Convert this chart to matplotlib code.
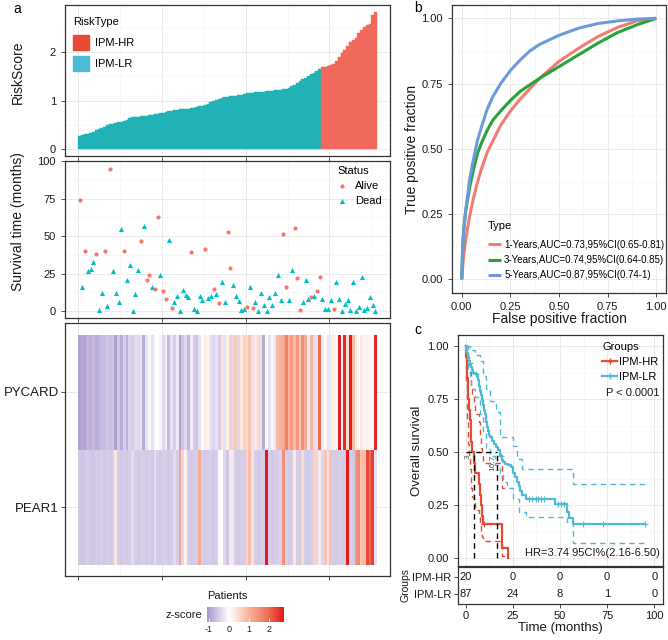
import numpy as np
import matplotlib
matplotlib.use("Agg")
import matplotlib.pyplot as plt
from matplotlib.colors import LinearSegmentedColormap, Normalize
from matplotlib.lines import Line2D
from matplotlib.patches import Patch
import matplotlib.cm as cm

plt.rcParams['font.family'] = ['Liberation Sans', 'DejaVu Sans']
plt.rcParams['axes.unicode_minus'] = False

W, H = 668, 640

# ---- panel a data ----
n_lr = 87
n_hr = 20
risk_score = [
    0.27, 0.29, 0.31, 0.32, 0.34, 0.36, 0.39, 0.41, 0.43, 0.46,
    0.49, 0.51, 0.52, 0.53, 0.55, 0.56, 0.58, 0.61, 0.64, 0.66,
    0.67, 0.67, 0.68, 0.68, 0.69, 0.70, 0.71, 0.72, 0.73, 0.74,
    0.75, 0.77, 0.78, 0.79, 0.80, 0.81, 0.82, 0.82, 0.83, 0.83,
    0.84, 0.85, 0.87, 0.89, 0.90, 0.92, 0.94, 0.97, 0.99, 1.02,
    1.03, 1.05, 1.07, 1.08, 1.09, 1.10, 1.10, 1.11, 1.12, 1.14,
    1.15, 1.15, 1.16, 1.17, 1.17, 1.18, 1.18, 1.19, 1.19, 1.20,
    1.21, 1.21, 1.22, 1.23, 1.24, 1.26, 1.30, 1.33, 1.37, 1.40,
    1.44, 1.47, 1.51, 1.54, 1.57, 1.61, 1.65,
    1.69, 1.70, 1.72, 1.74, 1.76, 1.82, 1.90, 1.98, 2.05, 2.12,
    2.20, 2.24, 2.29, 2.40, 2.46, 2.52, 2.55, 2.58, 2.76, 2.83,
]

surv_time = [
    74, 16.2, 40, 26.5, 28.3, 32.4, 38, 0.9, 12.3, 40,
    3, 95, 26.5, 12.3, 6, 54.6, 40, 20.4, 30.5, 0,
    11.2, 27.4, 47, 57, 20.8, 24.1, 16.2, 14.9, 62.5, 24.3,
    13, 7.9, 47.6, 1.8, 5.9, 10, 0, 13.8, 10.5, 9.2,
    39.5, 1, 0, 10.3, 7.2, 41.4, 8.5, 10, 14.9, 11.2,
    5, 19.4, 6, 52.6, 28.9, 17.3, 10, 6.8, 0.9, 1,
    2.5, 16.2, 1.8, 6, 0, 12, 4, 0, 9.4, 4,
    12, 24.3, 7.2, 51.5, 16, 7.2, 27.4, 55.5, 22.1, 0.7,
    5.9, 20.4, 7.9, 9.4, 10.3, 13, 23, 8.2, 1.4, 1.4,
    7.2, 1.6, 19.2, 8.2, 0, 4.6, 7.2, 0.9, 19.2, 0,
    2.8, 22.4, 0.9, 2, 9.2, 4.1, 0,
]

# 1 = Dead, 0 = Alive
status = [
    0, 1, 0, 1, 1, 1, 0, 1, 1, 0,
    1, 0, 1, 1, 1, 1, 0, 1, 1, 1,
    1, 1, 0, 1, 0, 0, 1, 0, 0, 1,
    0, 0, 1, 0, 1, 1, 1, 1, 1, 1,
    0, 1, 1, 1, 1, 0, 1, 1, 0, 1,
    0, 1, 1, 0, 0, 1, 1, 1, 1, 1,
    0, 1, 0, 1, 1, 1, 1, 1, 1, 1,
    1, 1, 1, 0, 0, 1, 1, 0, 0, 0,
    1, 1, 1, 0, 1, 0, 0, 1, 1, 1,
    1, 0, 1, 1, 1, 1, 1, 1, 1, 1,
    1, 1, 1, 1, 1, 1, 1,
]

genes = ['PEAR1', 'PYCARD']
pycard = [
    -0.95, -0.90, -0.95, -0.75, -0.80, -0.70, -0.85, -0.75, -0.70, -0.65,
    -0.60, -0.65, -0.60, -1.00, -0.55, -0.85, -0.50, -0.80, -0.45, -0.50,
    -0.35, -0.40, -0.30, -0.85, -0.30, -0.10, -0.30, -0.05, 0.00, -0.10,
    -0.40, -0.20, -0.70, -0.30, -0.50, -0.20, -0.95, -0.60, -0.40, -0.75,
    -0.20, -0.50, -0.60, -0.30, 0.02, 0.25, 0.10, -0.30, -0.45, -0.30,
    -0.50, 0.40, -0.30, 0.20, 0.60, -0.40, 0.70, -0.40, 0.30, 0.60,
    0.50, 0.80, -0.30, 0.30, 0.50, -0.30, -0.85, 0.10, -0.30, -0.10,
    -0.25, 0.90, 1.00, 1.10, 1.70, 1.00, 1.30, 0.90, 1.40, 0.70,
    1.50, 1.10, -0.20, 1.00, -0.40, -0.30, 2.00, -0.20, 0.10, -0.30,
    -0.20, 0.20, -0.10, 2.70, 0.10, 2.60, 0.50, 2.70, 0.90, 0.30,
    0.10, 0.30, -0.10, 0.20, 0.05, -0.05, 2.60,
]
pear1 = [
    -0.55, -0.60, -0.55, -0.50, -0.55, -0.60, -0.50, -0.55, -0.50, -0.55,
    -0.50, -0.55, -0.50, 0.30, -0.50, -0.55, -0.50, -0.55, -0.50, -0.35,
    -0.50, -0.55, -0.50, -0.50, -0.55, -0.50, -0.55, -0.35, -0.50, -0.55,
    -0.50, -0.50, -0.55, -0.50, -0.35, -0.50, 1.20, -0.40, 0.20, -0.50,
    -0.55, -0.50, -0.50, 1.10, -0.50, -0.55, -0.50, -0.50, -0.55, -0.50,
    -0.05, 0.00, -0.40, -0.60, -0.20, 0.30, -0.50, -0.55, -0.50, -0.50,
    0.60, 0.90, 0.40, -0.50, -0.55, -0.50, -0.50, 2.80, -0.50, -0.55,
    -0.50, -0.50, -0.45, 1.50, -0.50, -0.55, -0.50, 0.30, -0.50, -0.55,
    0.50, -0.50, -0.55, -0.50, 0.60, 0.60, -0.20, -0.40, 0.80, -0.30,
    0.80, -0.50, -0.55, -0.50, -0.50, -0.55, 2.80, -0.50, -0.55, 1.40,
    1.60, 0.80, 0.90, 2.30, 2.00, 2.40, -0.30,
]

# ---- panel b data (ROC) ----
roc_labels = ['1-Years,AUC=0.73,95%CI(0.65-0.81)',
              '3-Years,AUC=0.74,95%CI(0.64-0.85)',
              '5-Years,AUC=0.87,95%CI(0.74-1)']
fpr_1y = [0, 0.005, 0.01, 0.02, 0.04, 0.06, 0.08, 0.10, 0.13, 0.16, 0.20, 0.25, 0.30, 0.35, 0.40, 0.50, 0.60, 0.70, 0.80, 0.90, 1.0]
tpr_1y = [0, 0.05, 0.09, 0.15, 0.24, 0.31, 0.37, 0.42, 0.485, 0.53, 0.59, 0.645, 0.69, 0.73, 0.77, 0.835, 0.885, 0.93, 0.965, 0.99, 1.0]
fpr_3y = [0, 0.005, 0.01, 0.02, 0.04, 0.06, 0.08, 0.10, 0.13, 0.16, 0.20, 0.25, 0.30, 0.35, 0.40, 0.50, 0.60, 0.70, 0.80, 0.90, 1.0]
tpr_3y = [0, 0.13, 0.19, 0.26, 0.35, 0.42, 0.48, 0.52, 0.57, 0.61, 0.645, 0.685, 0.72, 0.745, 0.77, 0.815, 0.86, 0.905, 0.945, 0.975, 1.0]
fpr_5y = [0, 0.005, 0.01, 0.02, 0.04, 0.06, 0.08, 0.10, 0.13, 0.16, 0.20, 0.25, 0.30, 0.35, 0.40, 0.50, 0.60, 0.70, 0.80, 0.90, 1.0]
tpr_5y = [0, 0.12, 0.18, 0.26, 0.38, 0.46, 0.53, 0.58, 0.65, 0.70, 0.75, 0.80, 0.84, 0.875, 0.90, 0.935, 0.962, 0.98, 0.99, 0.997, 1.0]

# ---- panel c data (KM) ----
hr_t = [0, 0.2, 0.5, 0.8, 1.1, 1.4, 1.8, 2.2, 2.6, 3.0, 3.5, 4.2, 5.0, 7.0, 7.6, 8.2, 8.8, 9.4, 19.2, 22.3]
hr_s = [1.0, 0.95, 0.90, 0.85, 0.80, 0.75, 0.70, 0.65, 0.60, 0.55, 0.50, 0.45, 0.40, 0.35, 0.30, 0.25, 0.20, 0.16, 0.05, 0.0]
hr_up = [1.0, 1.0, 1.0, 1.0, 0.98, 0.95, 0.92, 0.88, 0.84, 0.80, 0.76, 0.72, 0.68, 0.64, 0.58, 0.52, 0.48, 0.45, 0.33, 0.33]
hr_lo = [1.0, 0.82, 0.74, 0.66, 0.60, 0.54, 0.48, 0.42, 0.37, 0.33, 0.29, 0.26, 0.23, 0.20, 0.16, 0.13, 0.10, 0.08, 0.01, 0.01]

lr_t = [0, 0.3, 0.7, 1.0, 1.5, 2.0, 2.5, 3.0, 3.5, 4.0, 5.0, 6.0, 6.5, 7.0, 7.5, 8.0, 8.5, 9.0, 9.5, 10.0,
        10.5, 11.0, 11.5, 12.0, 12.5, 13.0, 14.0, 15.0, 16.0, 17.0, 18.0, 19.0, 20.0, 21.0, 22.5, 24.0,
        25.0, 26.0, 27.0, 28.0, 29.0, 30.0, 32.0, 47.5, 53.5, 55.0, 56.7, 95.0]
lr_s = [1.0, 0.977, 0.965, 0.94, 0.93, 0.92, 0.91, 0.90, 0.885, 0.875, 0.87, 0.86, 0.84, 0.81, 0.79, 0.77,
        0.745, 0.72, 0.70, 0.68, 0.66, 0.64, 0.62, 0.60, 0.58, 0.57, 0.555, 0.54, 0.525, 0.51, 0.48, 0.465,
        0.455, 0.445, 0.44, 0.43, 0.40, 0.385, 0.36, 0.34, 0.315, 0.30, 0.28, 0.255, 0.22, 0.19, 0.16, 0.16]
lr_up_t = [0, 2, 5, 7.5, 9, 10.5, 13, 16, 18, 25, 27, 30, 56.7, 95]
lr_up_s = [1.0, 0.98, 0.96, 0.93, 0.86, 0.80, 0.74, 0.69, 0.57, 0.53, 0.47, 0.42, 0.35, 0.35]
lr_lo_t = [0, 1.0, 2.0, 3.0, 5.0, 7.5, 9.0, 11.0, 13.0, 15.5, 18.0, 20.0, 22.0, 25.0, 28.5, 32.0, 53.5, 56.7, 95.0]
lr_lo_s = [1.0, 0.88, 0.84, 0.80, 0.76, 0.68, 0.60, 0.52, 0.48, 0.44, 0.40, 0.36, 0.33, 0.28, 0.22, 0.195, 0.17, 0.07, 0.07]
lr_cens_t = [2.2, 5.5, 18.5, 33.5, 35, 37, 38.5, 40, 41.5, 49, 50.5, 52, 62, 73, 95]
hr_cens_t = [9.8]
medians = [4.4, 16.6]
median_labels = ['3', '16.7']

risk_times = [0, 25, 50, 75, 100]
risk_hr = [20, 0, 0, 0, 0]
risk_lr = [87, 24, 8, 1, 0]

# colours
C_HR_BAR = '#F0695C'
C_LR_BAR = '#21B2B6'
C_HR = '#E64B35'
C_LR = '#4DBBD5'
C_ALIVE = '#F8766D'
C_DEAD = '#00BFC4'
TXT = '#1A1A1A'


def box(l, t, r, b):
    return [l / W, 1 - b / H, (r - l) / W, (b - t) / H]


def bw(ax):
    for s in ax.spines.values():
        s.set_color('#333333')
        s.set_linewidth(0.9)
    ax.grid(True, which='major', color='#EBEBEB', lw=0.7)
    ax.grid(True, which='minor', color='#F3F3F3', lw=0.4)
    ax.set_axisbelow(True)
    ax.tick_params(which='major', length=3, width=0.6, color='#333333', labelsize=8, labelcolor=TXT)
    ax.tick_params(which='minor', length=0)


fig = plt.figure(figsize=(W / 100, H / 100), dpi=100)

# ---------------- a: risk score ----------------
n = len(risk_score)
xpos = np.arange(n) + 0.5
bar_cols = [C_LR_BAR] * n_lr + [C_HR_BAR] * n_hr
ax1 = fig.add_axes(box(65, 5, 390, 156))
bw(ax1)
ax1.bar(xpos, risk_score, width=1.0, color=bar_cols, edgecolor=bar_cols, linewidth=0.3)
ax1.set_xlim(-4.7, 111.7)
ax1.set_ylim(-0.14, 2.97)
ax1.set_yticks([0, 1, 2])
ax1.set_yticks([0.5, 1.5, 2.5], minor=True)
ax1.set_xticks([0, 30, 60, 90])
ax1.set_xticks([15, 45, 75, 105], minor=True)
ax1.set_xticklabels([])
ax1.tick_params(axis='x', length=0)
leg1 = ax1.legend(handles=[Patch(color=C_HR, label='IPM-HR'), Patch(color=C_LR, label='IPM-LR')],
                  title='RiskType', loc='upper left', bbox_to_anchor=(0.01, 0.95), frameon=False,
                  fontsize=8, title_fontsize=8, handlelength=1.5, handleheight=1.6,
                  labelspacing=0.6, handletextpad=0.5, borderaxespad=0)
leg1._legend_box.align = 'left'
leg1._legend_box.sep = 6
fig.text(18 / W, 1 - 72 / H, 'RiskScore', rotation=90, ha='center', va='center', fontsize=10, color=TXT)

# ---------------- a: survival time ----------------
ax2 = fig.add_axes(box(65, 161, 390, 318))
bw(ax2)
alive_x = [xpos[i] for i in range(n) if status[i] == 0]
alive_y = [surv_time[i] for i in range(n) if status[i] == 0]
dead_x = [xpos[i] for i in range(n) if status[i] == 1]
dead_y = [surv_time[i] for i in range(n) if status[i] == 1]
ax2.scatter(alive_x, alive_y, s=9, marker='o', color=C_ALIVE, linewidths=0, label='Alive', zorder=3)
ax2.scatter(dead_x, dead_y, s=14, marker='^', color=C_DEAD, linewidths=0, label='Dead', zorder=3)
ax2.set_xlim(-4.7, 111.7)
ax2.set_ylim(-4.75, 100.3)
ax2.set_yticks([0, 25, 50, 75, 100])
ax2.set_yticks([12.5, 37.5, 62.5, 87.5], minor=True)
ax2.set_xticks([0, 30, 60, 90])
ax2.set_xticks([15, 45, 75, 105], minor=True)
ax2.set_xticklabels([])
ax2.tick_params(axis='x', top=True, bottom=True)
leg2 = ax2.legend(title='Status', loc='upper right', bbox_to_anchor=(1.0, 1.02), frameon=False,
                  fontsize=8, title_fontsize=8, handlelength=0.8, handletextpad=0.8,
                  labelspacing=0.45, markerscale=1.0, borderaxespad=0.3)
leg2._legend_box.align = 'left'
fig.text(18 / W, 1 - 222 / H, 'Survival time (months)', rotation=90, ha='center', va='center', fontsize=10, color=TXT)

# ---------------- a: heatmap ----------------
cmap = LinearSegmentedColormap.from_list('zs', [
    (0.0, '#A795CE'), (1.1 / 3.85, '#FFFFFF'), (2.1 / 3.85, '#F7B39B'),
    (3.1 / 3.85, '#EE6B50'), (1.0, '#E3191C')])
norm = Normalize(vmin=-1.1, vmax=2.75)
ax3 = fig.add_axes(box(65, 323, 390, 576))
bw(ax3)
z = np.array([pear1, pycard])
ax3.pcolormesh(np.arange(n + 1), [0.5, 1.5, 2.5], z, cmap=cmap, norm=norm, shading='flat', zorder=2)
ax3.set_xlim(-4.7, 111.7)
ax3.set_ylim(0.4, 2.6)
ax3.set_yticks([1, 2])
ax3.set_yticklabels(genes, fontsize=9.5)
ax3.tick_params(axis='y', pad=1.5)
ax3.set_xticks([0, 30, 60, 90])
ax3.set_xticks([15, 45, 75, 105], minor=True)
ax3.set_xticklabels([])
ax3.set_xlabel('Patients', fontsize=8, labelpad=4, color=TXT)

cax = fig.add_axes(box(207, 607, 284, 622))
cb = fig.colorbar(cm.ScalarMappable(norm=norm, cmap=cmap), cax=cax, orientation='horizontal')
cb.outline.set_visible(False)
cb.set_ticks([-1, 0, 1, 2])
cb.ax.tick_params(labelsize=6.5, length=3, width=0.5, color='white', direction='in', pad=2, labelcolor=TXT)
fig.text(202 / W, 1 - 615 / H, 'z-score', ha='right', va='center', fontsize=8, color=TXT)

# ---------------- b: ROC ----------------
ax4 = fig.add_axes(box(452, 5, 666, 293))
bw(ax4)
ax4.plot(fpr_1y, tpr_1y, color='#F07C72', lw=2.2, label=roc_labels[0], solid_capstyle='butt')
ax4.plot(fpr_3y, tpr_3y, color='#27A33A', lw=2.2, label=roc_labels[1], solid_capstyle='butt')
ax4.plot(fpr_5y, tpr_5y, color='#6C9BDA', lw=2.2, label=roc_labels[2], solid_capstyle='butt')
ax4.set_xlim(-0.05, 1.05)
ax4.set_ylim(-0.052, 1.051)
ticks = [0, 0.25, 0.5, 0.75, 1.0]
ax4.set_xticks(ticks)
ax4.set_yticks(ticks)
ax4.set_xticklabels(['0.00', '0.25', '0.50', '0.75', '1.00'])
ax4.set_yticklabels(['0.00', '0.25', '0.50', '0.75', '1.00'])
ax4.set_xticks([0.125, 0.375, 0.625, 0.875], minor=True)
ax4.set_yticks([0.125, 0.375, 0.625, 0.875], minor=True)
ax4.set_xlabel('False positive fraction', fontsize=10, labelpad=0, color=TXT)
ax4.set_ylabel('True positive fraction', fontsize=10, labelpad=2, color=TXT)
leg4 = ax4.legend(title='Type', loc='lower right', bbox_to_anchor=(1.01, 0.03), frameon=False,
                  fontsize=7, title_fontsize=8, handlelength=1.4, handletextpad=0.3,
                  labelspacing=0.55, borderaxespad=0)
leg4._legend_box.align = 'left'
leg4._legend_box.sep = 6

# ---------------- c: KM ----------------
ax5 = fig.add_axes(box(458, 335, 663, 566))
bw(ax5)
ax5.step(hr_t, hr_up, where='post', color=C_HR, lw=1.0, ls=(0, (4, 3)))
ax5.step(hr_t, hr_lo, where='post', color=C_HR, lw=1.0, ls=(0, (4, 3)))
ax5.step(lr_up_t, lr_up_s, where='post', color=C_LR, lw=1.0, ls=(0, (4, 3)))
ax5.step(lr_lo_t, lr_lo_s, where='post', color=C_LR, lw=1.0, ls=(0, (4, 3)))
ax5.step(hr_t, hr_s, where='post', color=C_HR, lw=1.6)
ax5.step(lr_t, lr_s, where='post', color=C_LR, lw=1.6)
lr_cens_s = [lr_s[max(i for i in range(len(lr_t)) if lr_t[i] <= c)] for c in lr_cens_t]
hr_cens_s = [hr_s[max(i for i in range(len(hr_t)) if hr_t[i] <= c)] for c in hr_cens_t]
ax5.plot(lr_cens_t, lr_cens_s, ls='none', marker='+', color=C_LR, ms=4, mew=0.8)
ax5.plot(hr_cens_t, hr_cens_s, ls='none', marker='+', color=C_HR, ms=4, mew=0.8)
# median lines
ax5.plot([0, max(medians)], [0.5, 0.5], color='black', lw=1.0, ls=(0, (4, 3)))
for m in medians:
    ax5.plot([m, m], [0, 0.5], color='black', lw=1.0, ls=(0, (4, 3)))
ax5.text(1.4, 0.48, median_labels[0], rotation=90, fontsize=6, color='#555555', ha='center', va='center')
ax5.text(14.4, 0.45, median_labels[1], rotation=90, fontsize=6, color='#555555', ha='center', va='center')
ax5.set_xlim(-4.1, 104.6)
ax5.set_ylim(-0.036, 1.052)
ax5.set_yticks(ticks)
ax5.set_yticklabels(['0.00', '0.25', '0.50', '0.75', '1.00'])
ax5.set_yticks([0.125, 0.375, 0.625, 0.875], minor=True)
ax5.set_xticks([0, 25, 50, 75, 100])
ax5.set_xticks([12.5, 37.5, 62.5, 87.5], minor=True)
ax5.set_xticklabels([])
ax5.tick_params(axis='x', length=0)
ax5.set_ylabel('Overall survival', fontsize=9.5, labelpad=3, color=TXT)
km_handles = [Line2D([], [], color=C_HR, lw=1.6, marker='+', ms=5, label='IPM-HR'),
              Line2D([], [], color=C_LR, lw=1.6, marker='+', ms=5, label='IPM-LR')]
leg5 = ax5.legend(handles=km_handles, title='Groups', loc='upper right', bbox_to_anchor=(1.01, 1.0),
                  frameon=False, fontsize=8, title_fontsize=8, handlelength=1.3, handletextpad=0.2,
                  labelspacing=0.45, borderaxespad=0.2)
leg5._legend_box.align = 'left'
ax5.text(0.985, 0.749, 'P < 0.0001', transform=ax5.transAxes, ha='right', va='center', fontsize=8, color=TXT)
ax5.text(0.985, 0.056, 'HR=3.74 95CI%(2.16-6.50)', transform=ax5.transAxes, ha='right', va='center',
         fontsize=8, color=TXT)

# risk table
ax6 = fig.add_axes(box(458, 567, 663, 604))
for s in ax6.spines.values():
    s.set_color('#333333')
    s.set_linewidth(0.9)
ax6.set_xlim(-4.1, 104.6)
ax6.set_ylim(0.4, 2.6)
for t, v in zip(risk_times, risk_hr):
    ax6.text(t, 2, str(v), ha='center', va='center', fontsize=8, color=TXT)
for t, v in zip(risk_times, risk_lr):
    ax6.text(t, 1, str(v), ha='center', va='center', fontsize=8, color=TXT)
ax6.set_yticks([2, 1])
ax6.set_yticklabels(['IPM-HR', 'IPM-LR'])
ax6.set_xticks(risk_times)
ax6.set_xticklabels([str(t) for t in risk_times])
ax6.tick_params(length=3, width=0.6, color='#333333', labelsize=8, labelcolor=TXT, pad=2)
ax6.set_xlabel('Time (months)', fontsize=9.5, labelpad=1, color=TXT)
ax6.set_ylabel('Groups', fontsize=7.5, labelpad=1, color=TXT)

# panel letters
fig.text(17 / W, 1 - 9 / H, 'a', ha='center', va='center', fontsize=10)
fig.text(418 / W, 1 - 8 / H, 'b', ha='center', va='center', fontsize=10)
fig.text(418 / W, 1 - 330 / H, 'c', ha='center', va='center', fontsize=10)

fig.savefig('out.png', dpi=100)
